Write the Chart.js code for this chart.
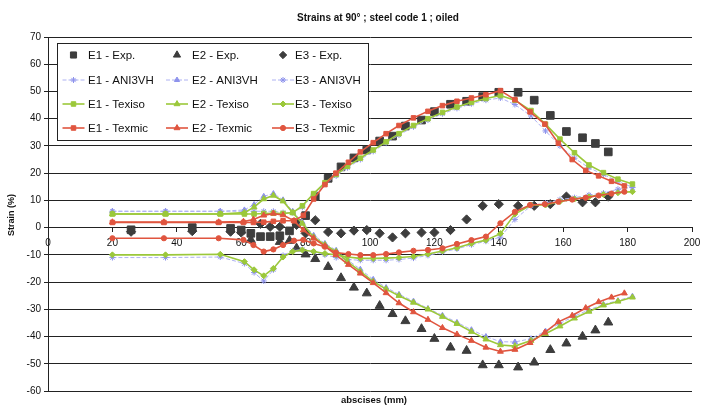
<!DOCTYPE html>
<html>
<head>
<meta charset="utf-8">
<script src="https://cdn.jsdelivr.net/npm/chart.js@4.4.1/dist/chart.umd.min.js"></script>
<style>
  html, body { margin: 0; padding: 0; background: #ffffff; }
  #wrap { width: 708px; height: 405px; }
</style>
</head>
<body>
<div id="wrap"><canvas id="c" width="708" height="405"></canvas></div>
<script>
// ---- axis ticks ----
const xTickValues = [0, 20, 40, 60, 80, 100, 120, 140, 160, 180, 200];
const yTickValues = [-60, -50, -40, -30, -20, -10, 0, 10, 20, 30, 40, 50, 60, 70];

// ---- measured strains (abscissa in mm, strain in %) ----
const xExp = [25.8, 44.8, 56.7, 60, 63, 66, 69, 72, 75, 77.2, 80, 83, 87, 91, 95, 99, 103, 107, 111, 116, 120, 125, 130, 135, 140, 146, 151, 156, 161, 166, 170, 174];
const e1Exp = [-0.8, 0, -0.3, -0.9, -2.1, -3.3, -3.3, -3, -1.2, 1.6, 4.4, 11.4, 18.1, 22.3, 25.6, 28.5, 31.8, 33.6, 37.3, 39.5, 42.6, 45.3, 46.4, 48.1, 49.7, 49.7, 46.8, 41.2, 35.3, 33, 30.9, 27.8];
const e2Exp = [null, null, null, null, -4.5, null, null, -5.2, -4.8, -7.6, -9.8, -11.5, -14.4, -18.5, -22, -24.1, -28.7, -31.7, -34.3, -37.2, -40.8, -44, -45.2, -50.5, -50.5, -51.3, -49.5, -44.9, -42.5, -40, -37.7, -34.8];
const e3Exp = [-1.5, -1.3, -1.5, -1.8, null, 1.4, 0.3, 0.3, null, 1, -2.1, 2.7, -1.6, -2.1, -1.1, -0.9, -2.1, -3.6, -2.1, -1.8, -1.8, -0.9, 3, 8, 8.6, 8, 8, 8.6, 11.4, 9.3, 9.3, 11.4];

// ---- simulations: ANI3VH and Texiso share one abscissa grid, Texmic has its own ----
const xSim = [20, 36.5, 53.5, 61, 64, 67, 70, 73, 76, 79, 82.5, 86, 89.5, 93, 97, 101, 105, 109, 113.5, 118, 122.5, 127, 131.5, 136, 140.5, 145, 150, 154.5, 159, 163.5, 168, 172.5, 177, 181.5];
const xTexmic = [20, 36, 53, 60.7, 63.8, 67, 70, 73, 76.4, 79.3, 82.5, 86, 89.4, 93.3, 97, 101, 105, 109, 113.5, 118, 122.5, 127, 131.5, 136, 140.5, 145, 149.7, 154.3, 158.5, 162.8, 167, 171, 175, 179];

const e1Ani = [6, 6, 6, 6, 6, 6, 6, 5.5, 5.5, 7.5, 12, 16, 19, 22, 25, 28, 31, 34, 37, 39.5, 41.8, 43.8, 45.5, 46.8, 47.6, 45.2, 41, 35.5, 30, 25.5, 22, 19.5, 17, 14.8];
const e2Ani = [6, 6, 6, 6.5, 8.5, 11.5, 12.5, 10.2, 6, 2, -2.8, -5.8, -8.3, -11.8, -15.3, -19, -22, -24.5, -27, -29.7, -32.2, -34.8, -37.5, -40, -41.9, -42, -40.8, -38, -35.2, -32.5, -30.2, -28.2, -26.8, -25.2];
const e3Ani = [-11, -11, -10.8, -13.2, -16.5, -19.6, -15.5, -10.2, -8.5, -8, -9, -10, -11, -11.7, -12, -12, -12, -11.7, -11.2, -10.2, -9, -7.8, -6.3, -5, -3.5, 3, 8, 9, 10.3, 11, 12, 12.7, 14.1, 14.8];

const e1Texiso = [5, 5, 5, 5, 5, 5.2, 5.3, 5.2, 5.5, 8, 12.5, 16.5, 19.5, 22.5, 25.5, 28.5, 31.5, 34.5, 37.5, 40, 42.3, 44.3, 46, 47.4, 48.5, 46.8, 43, 38, 32.5, 27.5, 23, 20.2, 17.8, 16];
const e2Texiso = [5, 5, 5, 5.5, 7.5, 10.5, 11.8, 9.7, 5.5, 1.5, -3.5, -6.3, -8.8, -12.5, -16.1, -19.8, -22.6, -25, -27.5, -30, -32.7, -35.3, -38.2, -41, -43.1, -43.5, -41.5, -39, -36.2, -33.3, -30.8, -28.5, -27.1, -25.6];
const e3Texiso = [-10, -10, -9.8, -12.5, -15.5, -17.7, -15, -10.8, -8.8, -8.2, -8.8, -9.5, -10, -10.8, -11.3, -11.3, -11.2, -11, -10.6, -9.7, -8.6, -7.4, -5.8, -4.6, -2.2, 5, 8.3, 8.3, 9.6, 10.5, 11.3, 12.2, 12.8, 13.2];

const e1Texmic = [1.9, 1.9, 1.9, 1.9, 1.9, 2, 2.3, 2.5, 2.5, 4.5, 10.5, 15.8, 20, 24, 27.8, 31.2, 34.5, 37.5, 40.3, 42.7, 44.8, 46.4, 47.6, 48.8, 50.3, 47, 42.5, 38, 31, 25, 21, 19, 17, 15.3];
const e2Texmic = [2, 2, 2, 2.2, 3, 4.5, 5.2, 4.6, 2.5, -0.9, -3.9, -6.8, -10, -13.6, -16.8, -20.3, -24, -27.7, -31, -33.8, -36.8, -39.2, -41.5, -44, -45.5, -44.8, -42.3, -38.5, -34.6, -32.3, -29.5, -27.3, -25.6, -24.1];
const e3Texmic = [-3.9, -3.9, -3.9, -4.5, -6.4, -8.8, -8, -6.4, -4.8, -4.5, -5.8, -7, -9.2, -9.7, -10.1, -10.1, -9.7, -9.1, -8.5, -8.2, -7.6, -6, -4.6, -3.3, 1.6, 5.8, 8.3, 8.6, 9.5, 10.3, 11, 11.8, 12.5, 13.2];

// ---- styles ----
const FONT = '"Liberation Sans", Arial, Helvetica, sans-serif';
const EXP = '#3d3d3d';
const BLUE_LINE = '#aeb2f2', BLUE_PT = '#8e93ec';
const GREEN = '#9bc83a';
const RED = '#e0553f';

function pts(xs, ys) {
  return xs.map((x, i) => ({ x: x, y: ys[i] }));
}

function expSeries(label, ys, style, radius) {
  return {
    label: label, data: pts(xExp, ys), showLine: false, order: 3,
    pointStyle: style, pointRadius: radius,
    pointBackgroundColor: EXP, pointBorderColor: EXP, pointBorderWidth: 1,
    backgroundColor: EXP, borderColor: EXP
  };
}

function simSeries(label, xs, ys, line, ptColor, style, radius, width, dash, order) {
  return {
    label: label, data: pts(xs, ys), showLine: true, order: order,
    borderColor: line, borderWidth: width, borderDash: dash, tension: 0,
    pointStyle: style, pointRadius: radius,
    pointBackgroundColor: ptColor, pointBorderColor: ptColor, pointBorderWidth: 1,
    backgroundColor: ptColor
  };
}

const datasets = [
  expSeries('E1 - Exp.', e1Exp, 'rect', 5.4),
  expSeries('E2 - Exp.', e2Exp, 'triangle', 5.2),
  expSeries('E3 - Exp.', e3Exp, 'rectRot', 4.6),
  simSeries('E1 - ANI3VH', xSim, e1Ani, BLUE_LINE, BLUE_PT, 'star', 3, 1, [4, 2], 2),
  simSeries('E2 - ANI3VH', xSim, e2Ani, BLUE_LINE, BLUE_PT, 'triangle', 3, 1, [4, 2], 2),
  simSeries('E3 - ANI3VH', xSim, e3Ani, BLUE_LINE, BLUE_PT, 'star', 3, 1, [4, 2], 2),
  simSeries('E1 - Texiso', xSim, e1Texiso, GREEN, GREEN, 'rect', 3.2, 1.6, [], 1),
  simSeries('E2 - Texiso', xSim, e2Texiso, GREEN, GREEN, 'triangle', 3.4, 1.6, [], 1),
  simSeries('E3 - Texiso', xSim, e3Texiso, GREEN, GREEN, 'rectRot', 3, 1.6, [], 1),
  simSeries('E1 - Texmic', xTexmic, e1Texmic, RED, RED, 'rect', 3.2, 1.6, [], 0),
  simSeries('E2 - Texmic', xTexmic, e2Texmic, RED, RED, 'triangle', 3.4, 1.6, [], 0),
  simSeries('E3 - Texmic', xTexmic, e3Texmic, RED, RED, 'circle', 2.6, 1.6, [], 0)
];

// ---- marker painter for the legend ----
function paintMarker(ctx, style, x, y, r, color, lw) {
  ctx.save();
  ctx.fillStyle = color;
  ctx.strokeStyle = color;
  ctx.lineWidth = lw || 1;
  ctx.beginPath();
  if (style === 'rect') {
    const s = r * Math.SQRT1_2;
    ctx.rect(x - s, y - s, 2 * s, 2 * s);
    ctx.fill(); ctx.stroke();
  } else if (style === 'triangle') {
    ctx.moveTo(x, y - r);
    ctx.lineTo(x + r * 0.866, y + r * 0.5);
    ctx.lineTo(x - r * 0.866, y + r * 0.5);
    ctx.closePath();
    ctx.fill(); ctx.stroke();
  } else if (style === 'rectRot') {
    ctx.moveTo(x, y - r); ctx.lineTo(x + r, y); ctx.lineTo(x, y + r); ctx.lineTo(x - r, y);
    ctx.closePath();
    ctx.fill(); ctx.stroke();
  } else if (style === 'circle') {
    ctx.arc(x, y, r, 0, Math.PI * 2);
    ctx.fill(); ctx.stroke();
  } else if (style === 'star') {
    for (let k = 0; k < 4; k++) {
      const a = k * Math.PI / 4;
      ctx.moveTo(x - Math.cos(a) * r, y - Math.sin(a) * r);
      ctx.lineTo(x + Math.cos(a) * r, y + Math.sin(a) * r);
    }
    ctx.stroke();
  }
  ctx.restore();
}

// ---- titles and the boxed legend inside the plot ----
const decorations = {
  id: 'decorations',
  beforeDraw(chart) {
    const ctx = chart.ctx;
    ctx.save();
    ctx.fillStyle = '#ffffff';
    ctx.fillRect(0, 0, chart.width, chart.height);
    ctx.restore();
  },
  afterDraw(chart) {
    const ctx = chart.ctx;
    ctx.save();
    ctx.fillStyle = '#111111';
    ctx.textBaseline = 'middle';
    ctx.textAlign = 'center';
    ctx.font = 'bold 10px ' + FONT;
    ctx.fillText('Strains at 90° ; steel code 1 ; oiled', 378, 18);
    ctx.font = 'bold 9.5px ' + FONT;
    ctx.fillText('abscises (mm)', 374, 400);
    ctx.save();
    ctx.translate(12, 215);
    ctx.rotate(-Math.PI / 2);
    ctx.font = 'bold 9px ' + FONT;
    ctx.fillText('Strain (%)', 0, 0);
    ctx.restore();

    // legend frame
    const bx = 57, by = 43, bw = 311, bh = 97;
    ctx.fillStyle = '#ffffff';
    ctx.fillRect(bx, by, bw, bh);
    ctx.strokeStyle = '#222222';
    ctx.lineWidth = 1;
    ctx.strokeRect(bx + 0.5, by + 0.5, bw, bh);

    const sampleX = [73.5, 177, 283];
    const textX = [88, 192, 295];
    const rowY = [55, 80, 104, 128];
    ctx.font = '11.5px ' + FONT;
    ctx.textAlign = 'left';
    chart.data.datasets.forEach((ds, i) => {
      const col = i % 3, row = Math.floor(i / 3);
      const cx = sampleX[col], cy = rowY[row];
      if (ds.showLine) {
        ctx.save();
        ctx.strokeStyle = ds.borderColor;
        ctx.lineWidth = ds.borderWidth;
        ctx.setLineDash(ds.borderDash || []);
        ctx.beginPath();
        ctx.moveTo(cx - 11, cy);
        ctx.lineTo(cx + 11, cy);
        ctx.stroke();
        ctx.restore();
      }
      const r = ds.showLine ? ds.pointRadius : ds.pointRadius * 0.8;
      paintMarker(ctx, ds.pointStyle, cx, cy, r, ds.pointBackgroundColor, 1);
      ctx.fillStyle = '#111111';
      ctx.fillText(ds.label, textX[col], cy + 0.5);
    });
    ctx.restore();
  }
};

new Chart(document.getElementById('c'), {
  type: 'scatter',
  data: { datasets: datasets },
  options: {
    responsive: false,
    animation: false,
    devicePixelRatio: 1,
    events: [],
    layout: { padding: { left: 0, right: 16, top: 37, bottom: 14 } },
    plugins: { legend: { display: false }, tooltip: { enabled: false }, title: { display: false } },
    scales: {
      x: {
        type: 'linear', min: 0, max: 200,
        position: { y: 0 },
        afterBuildTicks: (s) => { s.ticks = xTickValues.map(v => ({ value: v })); },
        afterFit: (s) => { s.height = 0; },
        grid: { display: true, drawOnChartArea: false, drawTicks: true, tickLength: 4, color: '#222222' },
        border: { display: true, color: '#222222', width: 1 },
        ticks: { font: { family: FONT, size: 10 }, color: '#111111', padding: 6, maxRotation: 0, autoSkip: false }
      },
      y: {
        type: 'linear', min: -60, max: 70,
        afterBuildTicks: (s) => { s.ticks = yTickValues.map(v => ({ value: v })); },
        afterFit: (s) => { s.width = 48; },
        grid: { color: '#222222', lineWidth: 1, drawTicks: true, tickLength: 4 },
        border: { display: true, color: '#222222', width: 1 },
        ticks: { font: { family: FONT, size: 10 }, color: '#111111', padding: 3, autoSkip: false }
      }
    }
  },
  plugins: [decorations]
});
</script>
</body>
</html>
